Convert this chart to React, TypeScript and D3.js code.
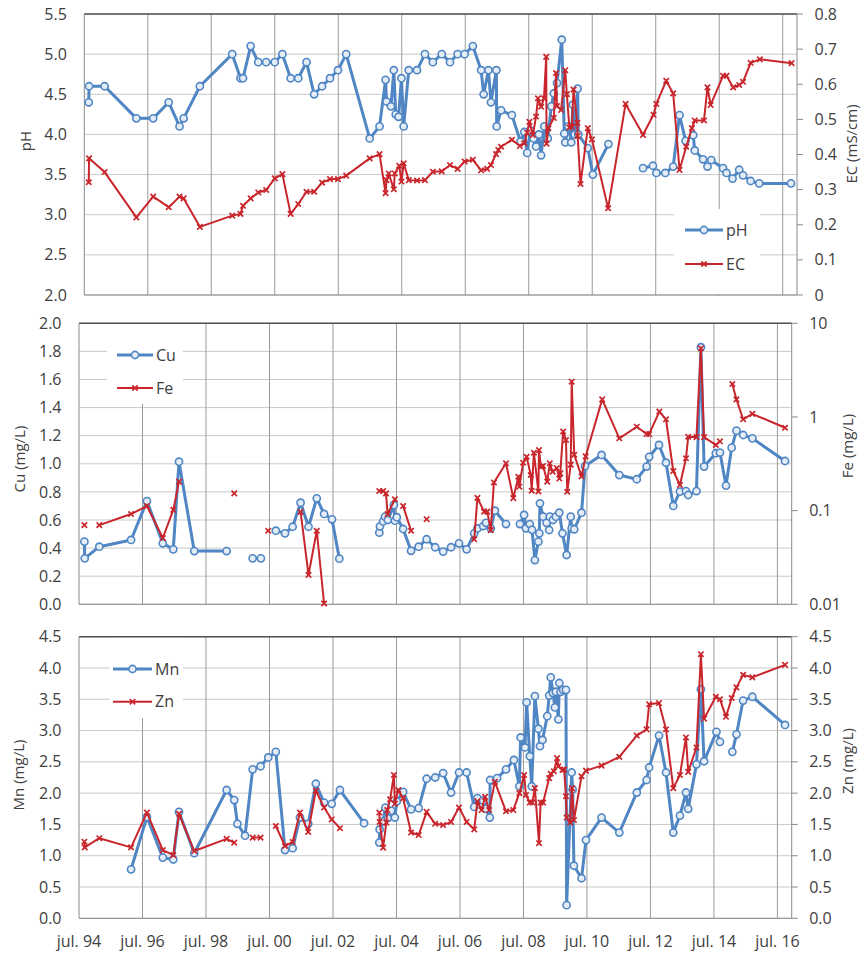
import React from "react";
import * as d3 from "d3";

type Pt = [number, number] | null;

// sample dates as decimal years
const xTickYears = [1994.5, 1996.5, 1998.5, 2000.5, 2002.5, 2004.5, 2006.5, 2008.5, 2010.5, 2012.5, 2014.5, 2016.5];
const xTickLabels = ["jul. 94", "jul. 96", "jul. 98", "jul. 00", "jul. 02", "jul. 04", "jul. 06", "jul. 08", "jul. 10", "jul. 12", "jul. 14", "jul. 16"];

const phTicks = [2, 2.5, 3, 3.5, 4, 4.5, 5, 5.5];
const ecTicks = [0, 0.1, 0.2, 0.3, 0.4, 0.5, 0.6, 0.7, 0.8];
const cuTicks = [0, 0.2, 0.4, 0.6, 0.8, 1.0, 1.2, 1.4, 1.6, 1.8, 2.0];
const feTicks = [0.01, 0.1, 1, 10];
const mnTicks = [0, 0.5, 1, 1.5, 2, 2.5, 3, 3.5, 4, 4.5];

const phData: Pt[] = [
  [1994.64, 4.4], [1994.65, 4.6], [1995.14, 4.6], [1996.14, 4.2], [1996.67, 4.2], [1997.16, 4.4], [1997.5, 4.1], [1997.63, 4.2], [1998.14, 4.6],
  [1999.16, 5.0], [1999.42, 4.7], [1999.5, 4.7], [1999.74, 5.1], [1999.98, 4.9], [2000.23, 4.9], [2000.5, 4.9], [2000.74, 5.0], [2001.0, 4.7],
  [2001.24, 4.7], [2001.5, 4.9], [2001.74, 4.5], [2001.99, 4.6], [2002.24, 4.7], [2002.49, 4.8], [2002.75, 5.0], [2003.49, 3.95], [2003.8, 4.1],
  [2003.99, 4.68], [2004.02, 4.41], [2004.16, 4.35], [2004.25, 4.8], [2004.31, 4.25], [2004.4, 4.22], [2004.49, 4.7], [2004.56, 4.1], [2004.72, 4.8],
  [2004.98, 4.8], [2005.23, 5.0], [2005.48, 4.9], [2005.76, 5.0], [2006.02, 4.9], [2006.26, 5.0], [2006.48, 5.0], [2006.74, 5.1], [2007.0, 4.8],
  [2007.08, 4.5], [2007.23, 4.8], [2007.31, 4.4], [2007.48, 4.8], [2007.49, 4.1], [2007.63, 4.3], [2007.97, 4.24], [2008.24, 3.91], [2008.36, 4.03],
  [2008.45, 3.77], [2008.55, 4.05], [2008.65, 3.95], [2008.73, 3.85], [2008.82, 4.0], [2008.89, 3.74], [2008.99, 4.1], [2009.1, 3.95], [2009.21, 4.35],
  [2009.29, 4.51], [2009.39, 4.64], [2009.54, 5.18], [2009.62, 4.01], [2009.65, 3.9], [2009.75, 4.1], [2009.84, 3.9], [2009.89, 4.37], [2009.95, 4.0],
  [2010.04, 4.57], [2010.06, 4.0], [2010.36, 3.83], [2010.52, 3.5], [2011.01, 3.88], null,
  [2012.1, 3.58], [2012.41, 3.61], [2012.52, 3.52], [2012.8, 3.52], [2013.05, 3.6], [2013.25, 4.24], [2013.44, 3.92], [2013.68, 3.99], [2013.73, 3.8],
  [2013.99, 3.69], [2014.13, 3.6], [2014.25, 3.68], [2014.62, 3.58], [2014.73, 3.52], [2014.92, 3.45], [2015.13, 3.56], [2015.25, 3.49], [2015.49, 3.42],
  [2015.76, 3.39], [2016.76, 3.39],
];

const ecData: Pt[] = [
  [1994.64, 0.321], [1994.65, 0.389], [1995.14, 0.35], [1996.14, 0.221], [1996.67, 0.28], [1997.16, 0.25], [1997.5, 0.28], [1997.63, 0.275],
  [1998.14, 0.194], [1999.16, 0.226], [1999.42, 0.231], [1999.5, 0.254], [1999.74, 0.275], [1999.98, 0.292], [2000.23, 0.299], [2000.5, 0.332],
  [2000.74, 0.344], [2001.0, 0.231], [2001.24, 0.259], [2001.5, 0.294], [2001.74, 0.294], [2001.99, 0.32], [2002.24, 0.33], [2002.49, 0.33],
  [2002.75, 0.34], [2003.49, 0.389], [2003.8, 0.401], [2003.99, 0.29], [2004.02, 0.327], [2004.09, 0.346], [2004.25, 0.301], [2004.28, 0.346],
  [2004.42, 0.368], [2004.49, 0.323], [2004.56, 0.375], [2004.72, 0.327], [2004.98, 0.326], [2005.23, 0.327], [2005.48, 0.351], [2005.76, 0.352],
  [2006.02, 0.37], [2006.26, 0.359], [2006.48, 0.38], [2006.74, 0.385], [2007.0, 0.355], [2007.19, 0.359], [2007.31, 0.37], [2007.47, 0.401],
  [2007.54, 0.413], [2007.63, 0.422], [2007.97, 0.442], [2008.22, 0.424], [2008.36, 0.432], [2008.45, 0.462], [2008.52, 0.493], [2008.63, 0.456],
  [2008.73, 0.508], [2008.79, 0.56], [2008.89, 0.536], [2008.98, 0.56], [2009.05, 0.678], [2009.06, 0.431], [2009.12, 0.475], [2009.29, 0.504],
  [2009.36, 0.632], [2009.39, 0.538], [2009.52, 0.527], [2009.65, 0.64], [2009.7, 0.572], [2009.78, 0.477], [2009.86, 0.48], [2009.91, 0.585],
  [2010.03, 0.49], [2010.04, 0.453], [2010.13, 0.316], [2010.36, 0.475], [2010.49, 0.443], [2011.0, 0.247], [2011.55, 0.544], [2012.1, 0.456],
  [2012.43, 0.513], [2012.52, 0.544], [2012.83, 0.61], [2013.05, 0.574], [2013.25, 0.356], [2013.46, 0.422], [2013.64, 0.475], [2013.73, 0.497],
  [2014.02, 0.497], [2014.13, 0.591], [2014.23, 0.541], [2014.62, 0.624], [2014.73, 0.624], [2014.94, 0.591], [2015.13, 0.598], [2015.25, 0.607],
  [2015.49, 0.661], [2015.78, 0.671], [2016.78, 0.66],
];

const cuData: Pt[] = [
  [1994.67, 0.446], [1994.68, 0.327], [1995.14, 0.41], [1996.14, 0.458], [1996.64, 0.735], [1997.14, 0.434], [1997.47, 0.391], [1997.65, 1.015],
  [1998.13, 0.379], [1999.15, 0.379], null, [1999.97, 0.327], [2000.23, 0.327], null, [2000.7, 0.524], [2000.99, 0.505], [2001.23, 0.552],
  [2001.48, 0.723], [2001.73, 0.552], [2001.99, 0.754], [2002.22, 0.643], [2002.47, 0.605], [2002.7, 0.325], null,
  [2003.96, 0.51], [2003.98, 0.555], [2004.08, 0.59], [2004.14, 0.624], [2004.23, 0.6], [2004.42, 0.707], [2004.45, 0.595], [2004.51, 0.62],
  [2004.71, 0.536], [2004.96, 0.381], [2005.2, 0.41], [2005.45, 0.463], [2005.72, 0.406], [2005.97, 0.375], [2006.22, 0.406], [2006.47, 0.434],
  [2006.71, 0.391], [2006.95, 0.505], [2007.05, 0.54], [2007.23, 0.557], [2007.32, 0.58], [2007.47, 0.541], [2007.6, 0.666], [2007.95, 0.571], null,
  [2008.39, 0.571], [2008.52, 0.636], [2008.58, 0.541], [2008.7, 0.571], [2008.77, 0.53], [2008.86, 0.315], [2008.97, 0.446], [2009.0, 0.505],
  [2009.02, 0.719], [2009.12, 0.624], [2009.23, 0.58], [2009.31, 0.529], [2009.33, 0.624], [2009.43, 0.6], [2009.52, 0.624], [2009.63, 0.652],
  [2009.73, 0.505], [2009.86, 0.351], [2009.99, 0.624], [2010.02, 0.541], [2010.1, 0.534], [2010.33, 0.652], [2010.44, 0.984], [2010.96, 1.063],
  [2011.52, 0.92], [2012.07, 0.89], [2012.38, 0.98], [2012.46, 1.05], [2012.77, 1.134], [2012.99, 1.008], [2013.22, 0.7], [2013.43, 0.802],
  [2013.62, 0.806], [2013.69, 0.778], [2013.95, 0.806], [2014.09, 1.83], [2014.19, 0.98], [2014.56, 1.075], [2014.69, 1.08], [2014.88, 0.845],
  [2015.06, 1.115], [2015.21, 1.236], [2015.42, 1.205], [2015.71, 1.181], [2016.74, 1.02],
];

const feData: Pt[] = [
  [1994.67, 0.07], null, [1995.14, 0.07], [1996.14, 0.092], [1996.64, 0.112], [1997.14, 0.051], [1997.47, 0.102], [1997.65, 0.204], null,
  [1999.39, 0.153], null, [2000.46, 0.061], null,
  [2001.48, 0.097], [2001.73, 0.0206], [2001.99, 0.061], [2002.22, 0.0102], null,
  [2003.96, 0.162], [2004.08, 0.162], [2004.17, 0.153], [2004.22, 0.092], [2004.45, 0.132], null, [2004.71, 0.112], [2004.96, 0.061], null,
  [2005.45, 0.081], null,
  [2006.95, 0.0494], [2007.05, 0.137], [2007.26, 0.0975], [2007.36, 0.0975], [2007.47, 0.062], [2007.57, 0.2], [2007.95, 0.32], [2008.18, 0.136],
  [2008.34, 0.23], [2008.37, 0.18], [2008.49, 0.325], [2008.6, 0.376], [2008.73, 0.24], [2008.76, 0.163], [2008.83, 0.415], [2008.97, 0.16],
  [2008.99, 0.443], [2009.05, 0.294], [2009.12, 0.3], [2009.25, 0.204], [2009.33, 0.32], [2009.42, 0.26], [2009.55, 0.285], [2009.63, 0.22],
  [2009.66, 0.25], [2009.75, 0.7], [2009.84, 0.568], [2009.88, 0.159], [2009.99, 0.31], [2010.02, 2.38], [2010.1, 0.395], [2010.33, 0.232],
  [2010.46, 0.38], [2010.98, 1.54], [2011.52, 0.592], [2012.07, 0.787], [2012.38, 0.657], [2012.46, 0.657], [2012.78, 1.14], [2012.99, 0.944],
  [2013.22, 0.265], [2013.43, 0.188], [2013.62, 0.362], [2013.69, 0.615], [2013.95, 0.61], [2014.09, 5.41], [2014.19, 0.61], [2014.56, 0.502],
  [2014.69, 0.55], null, [2015.08, 2.25], [2015.21, 1.54], [2015.42, 0.944], [2015.71, 1.08], [2016.74, 0.767],
];

const mnData: Pt[] = [
  [1996.14, 0.783], [1996.64, 1.62], [1997.14, 0.97], [1997.47, 0.94], [1997.65, 1.7], [1998.13, 1.04], [1999.15, 2.05], [1999.39, 1.89],
  [1999.49, 1.51], [1999.73, 1.32], [1999.97, 2.38], [2000.22, 2.43], [2000.46, 2.57], [2000.7, 2.66], [2000.99, 1.09], [2001.23, 1.12],
  [2001.46, 1.61], [2001.72, 1.51], [2001.96, 2.15], [2002.22, 1.85], [2002.46, 1.83], [2002.72, 2.05], [2003.48, 1.52], null,
  [2003.96, 1.21], [2003.97, 1.42], [2004.08, 1.55], [2004.15, 1.77], [2004.23, 1.6], [2004.33, 1.72], [2004.45, 1.61], [2004.51, 1.87],
  [2004.71, 2.02], [2004.96, 1.74], [2005.2, 1.76], [2005.45, 2.23], [2005.72, 2.25], [2005.97, 2.32], [2006.22, 2.01], [2006.47, 2.33],
  [2006.71, 2.33], [2006.95, 1.78], [2007.05, 1.92], [2007.23, 1.88], [2007.32, 1.75], [2007.44, 1.61], [2007.45, 2.21], [2007.67, 2.24],
  [2007.95, 2.38], [2008.2, 2.53], [2008.37, 2.11], [2008.41, 2.89], [2008.55, 2.73], [2008.6, 3.45], [2008.7, 2.59], [2008.76, 2.11],
  [2008.86, 3.55], [2008.97, 3.03], [2009.02, 2.75], [2009.1, 2.85], [2009.25, 3.23], [2009.31, 3.56], [2009.36, 3.85], [2009.43, 3.6],
  [2009.49, 3.37], [2009.52, 3.62], [2009.6, 3.18], [2009.63, 3.76], [2009.67, 3.62], [2009.75, 3.65], [2009.84, 3.65], [2009.86, 0.21],
  [2010.02, 2.33], [2010.05, 2.06], [2010.09, 0.84], [2010.33, 0.64], [2010.47, 1.25], [2010.96, 1.61], [2011.52, 1.37], [2012.07, 2.01],
  [2012.38, 2.21], [2012.46, 2.41], [2012.77, 2.92], [2012.99, 2.33], [2013.22, 1.37], [2013.43, 1.64], [2013.62, 2.01], [2013.69, 1.75],
  [2013.95, 2.46], [2014.09, 3.66], [2014.19, 2.51], [2014.58, 2.98], [2014.69, 2.82], null, [2015.08, 2.66], [2015.21, 2.94], [2015.42, 3.48],
  [2015.71, 3.54], [2016.74, 3.09],
];

const znData: Pt[] = [
  [1994.67, 1.224], [1994.68, 1.134], [1995.14, 1.28], [1996.14, 1.134], [1996.64, 1.69], [1997.14, 1.09], [1997.47, 1.01], [1997.65, 1.67],
  [1998.13, 1.075], [1999.15, 1.27], [1999.39, 1.21], null, [1999.97, 1.29], [2000.22, 1.29], null, [2000.7, 1.475], [2000.99, 1.155],
  [2001.23, 1.22], [2001.46, 1.69], [2001.72, 1.38], [2001.96, 2.04], [2002.22, 1.77], [2002.46, 1.58], [2002.72, 1.44], null,
  [2003.96, 1.69], [2003.97, 1.54], [2004.08, 1.13], [2004.18, 1.53], [2004.21, 1.73], [2004.3, 1.9], [2004.42, 2.29], [2004.45, 1.83],
  [2004.56, 2.05], [2004.71, 1.92], [2004.96, 1.37], [2005.2, 1.33], [2005.45, 1.7], [2005.72, 1.51], [2005.97, 1.49], [2006.22, 1.54],
  [2006.47, 1.77], [2006.71, 1.54], [2006.95, 1.42], [2007.05, 1.87], [2007.18, 1.73], [2007.29, 1.94], [2007.42, 1.73], [2007.6, 2.18],
  [2007.95, 1.71], [2008.18, 1.73], [2008.37, 2.0], [2008.52, 2.29], [2008.58, 1.97], [2008.7, 1.85], [2008.78, 1.85], [2008.86, 2.08],
  [2008.99, 1.2], [2009.04, 1.85], [2009.12, 1.85], [2009.31, 2.24], [2009.36, 2.31], [2009.46, 2.35], [2009.56, 2.56], [2009.6, 2.43],
  [2009.73, 2.37], [2009.78, 2.38], [2009.84, 1.95], [2009.86, 1.61], [2009.97, 1.53], [2010.03, 2.08], [2010.09, 1.57], [2010.33, 2.27],
  [2010.47, 2.36], [2010.96, 2.44], [2011.52, 2.58], [2012.07, 2.92], [2012.38, 3.02], [2012.46, 3.42], [2012.77, 3.44], [2012.99, 3.02],
  [2013.22, 2.08], [2013.43, 2.29], [2013.62, 2.89], [2013.69, 2.34], [2013.95, 2.73], [2014.09, 4.22], [2014.19, 3.19], [2014.56, 3.54],
  [2014.69, 3.5], [2014.88, 3.22], [2015.06, 3.52], [2015.21, 3.69], [2015.42, 3.89], [2015.71, 3.85], [2016.74, 4.05],
];

const BLUE = "#4f86c3";
const RED = "#c8262c";
const FONT = "'Open Sans', sans-serif";
const TXT = "#404040";

const fmt1 = (d: number) => d.toFixed(1);

function Circle({ x, y }: { x: number; y: number }) {
  return <circle cx={x} cy={y} r={3.6} fill="#e4ecf6" stroke={BLUE} strokeWidth={1.6} />;
}
function Cross({ x, y }: { x: number; y: number }) {
  const s = 2.7;
  return (
    <path d={`M${x - s},${y - s}L${x + s},${y + s}M${x - s},${y + s}L${x + s},${y - s}`} stroke={RED} strokeWidth={1.7} fill="none" />
  );
}

function Panel(props: any) {
  const { left, right, top, bottom, yL, yR, ticksL, ticksR, fmtL, fmtR, blue, red, titleL, titleR, tL, tR, legend, showX } = props;
  const x = d3.scaleLinear().domain([1994.5, 2016.95]).range([left, right]);
  const lineL = d3.line<Pt>().defined((d) => d !== null).x((d) => x(d![0])).y((d) => yL(d![1]));
  const lineR = d3.line<Pt>().defined((d) => d !== null).x((d) => x(d![0])).y((d) => yR(d![1]));
  const pts = (arr: Pt[]) => arr.filter((d) => d !== null) as [number, number][];
  return (
    <g>
      {/* horizontal grid */}
      {ticksL.map((t: number) => (
        <line key={"h" + t} x1={left} x2={right} y1={yL(t)} y2={yL(t)} stroke="#c9c9c9" strokeWidth={1} />
      ))}
      {/* vertical grid */}
      {xTickYears.slice(1).map((t) => (
        <line key={"v" + t} x1={x(t)} x2={x(t)} y1={top} y2={bottom} stroke="#9a9a9a" strokeWidth={1} />
      ))}
      {/* legend box covers grid */}
      <rect x={legend.x} y={legend.y} width={legend.w} height={legend.h} fill="#fff" />
      {/* axes */}
      <line x1={left} x2={right} y1={top} y2={top} stroke="#505050" strokeWidth={1.5} />
      <line x1={left} x2={right} y1={bottom} y2={bottom} stroke="#8a8a8a" strokeWidth={1} />
      <line x1={left} x2={left} y1={top} y2={bottom} stroke="#8a8a8a" strokeWidth={1} />
      <line x1={right} x2={right} y1={top} y2={bottom} stroke="#8a8a8a" strokeWidth={1} />
      {ticksR.map((t: number) => (
        <line key={"rt" + t} x1={right} x2={right + 6} y1={yR(t)} y2={yR(t)} stroke="#8a8a8a" strokeWidth={1} />
      ))}
      {/* tick labels */}
      {ticksL.map((t: number) => (
        <text key={"lt" + t} x={left - 17.5} y={yL(t)} dy="0.35em" textAnchor="end" fontSize={16} fill={TXT} fontFamily={FONT}>
          {fmtL(t)}
        </text>
      ))}
      {ticksR.map((t: number) => (
        <text key={"rl" + t} x={right + 17.5} y={yR(t)} dy="0.35em" textAnchor="start" fontSize={16} fill={TXT} fontFamily={FONT}>
          {fmtR(t)}
        </text>
      ))}
      {showX &&
        xTickYears.map((t, i) => (
          <text key={"xt" + t} x={x(t)} y={bottom + 23.5} dy="0.35em" textAnchor="middle" fontSize={16} fill={TXT} fontFamily={FONT}>
            {xTickLabels[i]}
          </text>
        ))}
      {/* titles */}
      <text transform={`translate(${tL[0]},${tL[1]}) rotate(-90)`} dy="0.35em" textAnchor="middle" fontSize={15} fill={TXT} fontFamily={FONT}>
        {titleL}
      </text>
      <text transform={`translate(${tR[0]},${tR[1]}) rotate(-90)`} dy="0.35em" textAnchor="middle" fontSize={15} fill={TXT} fontFamily={FONT}>
        {titleR}
      </text>
      {/* series */}
      <path d={lineL(blue.data) || ""} fill="none" stroke={BLUE} strokeWidth={3} strokeLinejoin="round" />
      {pts(blue.data).map((d, i) => (
        <Circle key={"c" + i} x={x(d[0])} y={yL(d[1])} />
      ))}
      <path d={lineR(red.data) || ""} fill="none" stroke={RED} strokeWidth={2} strokeLinejoin="round" />
      {pts(red.data).map((d, i) => (
        <Cross key={"x" + i} x={x(d[0])} y={yR(d[1])} />
      ))}
      {/* legend */}
      <g fontFamily={FONT} fontSize={16} fill={TXT}>
        <line x1={legend.lx1} x2={legend.lx2} y1={legend.y1} y2={legend.y1} stroke={BLUE} strokeWidth={3} />
        <Circle x={(legend.lx1 + legend.lx2) / 2} y={legend.y1} />
        <text x={legend.lx2 + 3} y={legend.y1} dy="0.35em">{blue.name}</text>
        <line x1={legend.lx1} x2={legend.lx2} y1={legend.y2} y2={legend.y2} stroke={RED} strokeWidth={2} />
        <Cross x={(legend.lx1 + legend.lx2) / 2} y={legend.y2} />
        <text x={legend.lx2 + 3} y={legend.y2} dy="0.35em">{red.name}</text>
      </g>
    </g>
  );
}

export default function App() {
  const p1 = { left: 84.3, right: 797, top: 14, bottom: 295 };
  const p2 = { left: 79, right: 791.7, top: 323.3, bottom: 604.3 };
  const p3 = { left: 79, right: 791.7, top: 636.7, bottom: 918.3 };

  const yPh = d3.scaleLinear().domain([2, 5.5]).range([p1.bottom, p1.top]);
  const yEc = d3.scaleLinear().domain([0, 0.8]).range([p1.bottom, p1.top]);
  const yCu = d3.scaleLinear().domain([0, 2]).range([p2.bottom, p2.top]);
  const yFe = d3.scaleLog().domain([0.01, 10]).range([p2.bottom, p2.top]);
  const yMn = d3.scaleLinear().domain([0, 4.5]).range([p3.bottom, p3.top]);
  const yZn = d3.scaleLinear().domain([0, 4.5]).range([p3.bottom, p3.top]);

  return (
    <svg width={862} height={953} style={{ position: "absolute", left: 0, top: 0, background: "#fff" }}>
      <rect width={862} height={953} fill="#fff" />
      <Panel
        {...p1}
        yL={yPh}
        yR={yEc}
        ticksL={phTicks}
        ticksR={ecTicks}
        fmtL={fmt1}
        fmtR={(d: number) => (d === 0 ? "0" : d.toFixed(1))}
        blue={{ name: "pH", data: phData }}
        red={{ name: "EC", data: ecData }}
        titleL="pH"
        titleR="EC (mS/cm)"
        tL={[26, 141]}
        tR={[852, 144]}
        legend={{ x: 674, y: 209, w: 86, h: 85, lx1: 685, lx2: 723, y1: 230, y2: 264 }}
      />
      <Panel
        {...p2}
        yL={yCu}
        yR={yFe}
        ticksL={cuTicks}
        ticksR={feTicks}
        fmtL={fmt1}
        fmtR={(d: number) => String(d)}
        blue={{ name: "Cu", data: cuData }}
        red={{ name: "Fe", data: feData }}
        titleL="Cu (mg/L)"
        titleR="Fe (mg/L)"
        tL={[19.5, 459]}
        tR={[848, 446]}
        legend={{ x: 107, y: 324, w: 76, h: 80, lx1: 117, lx2: 153, y1: 355, y2: 388 }}
      />
      <Panel
        {...p3}
        yL={yMn}
        yR={yZn}
        ticksL={mnTicks}
        ticksR={mnTicks}
        fmtL={fmt1}
        fmtR={fmt1}
        blue={{ name: "Mn", data: mnData }}
        red={{ name: "Zn", data: znData }}
        titleL="Mn (mg/L)"
        titleR="Zn (mg/L)"
        tL={[19, 775]}
        tR={[848, 761]}
        legend={{ x: 110, y: 637, w: 73, h: 81, lx1: 113, lx2: 152, y1: 669, y2: 701.7 }}
        showX
      />
    </svg>
  );
}
